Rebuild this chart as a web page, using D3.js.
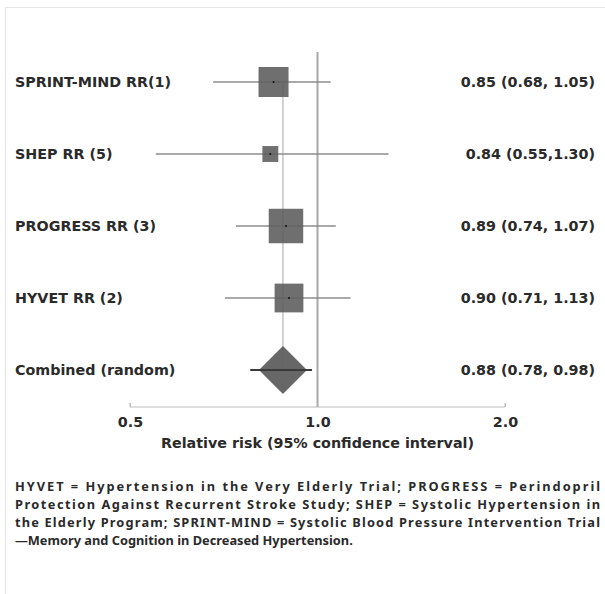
<!DOCTYPE html>
<html lang="en">
<head>
    <meta charset="UTF-8">
    <title>Forest plot - relative risk</title>
    <style>
        body { margin: 0; background: #fff; }
        svg { font-family: "DejaVu Sans", sans-serif; }
        .lbl { font-size: 14.3px; font-weight: bold; fill: #2a2a2a; }
        .note { font-family: "Noto Sans", sans-serif; font-size: 12.8px; font-weight: bold; fill: #2a2a2a; }
    </style>
</head>
<body>
    <svg id="chart" width="605" height="594"></svg>
    <script src="https://d3js.org/d3.v7.min.js"></script>
    <script>
        // data
        const studies = ["SPRINT-MIND RR(1)", "SHEP RR (5)", "PROGRESS RR (3)", "HYVET RR (2)", "Combined (random)"];
        const rr = [0.85, 0.84, 0.89, 0.90, 0.88];
        const lower = [0.68, 0.55, 0.74, 0.71, 0.78];
        const upper = [1.05, 1.30, 1.07, 1.13, 0.98];
        const weights = [25, 7, 33, 23]; // percent, approx from square size
        const rrText = ["0.85 (0.68, 1.05)", "0.84 (0.55,1.30)", "0.89 (0.74, 1.07)", "0.90 (0.71, 1.13)", "0.88 (0.78, 0.98)"];
        const tickValues = [0.5, 1.0, 2.0];
        const xTitle = "Relative risk (95% confidence interval)";
        const footnote = [
            "HYVET = Hypertension in the Very Elderly Trial; PROGRESS = Perindopril",
            "Protection Against Recurrent Stroke Study; SHEP = Systolic Hypertension in",
            "the Elderly Program; SPRINT-MIND = Systolic Blood Pressure Intervention Trial",
            "\u2014Memory and Cognition in Decreased Hypertension."
        ];

        const svg = d3.select("#chart");

        // light frame around the figure
        svg.append("path")
            .attr("d", "M5.5,594 V7.5 H605")
            .attr("fill", "none")
            .attr("stroke", "#e6e6e6");

        const x = d3.scaleLog().base(2).domain([0.5, 2]).range([130, 505]);
        const y = d3.scalePoint().domain(studies).range([82, 370]);
        const side = d3.scaleSqrt().domain([0, 100]).range([0, 60]);
        const axisY = 407;

        // line of no effect
        svg.append("line")
            .attr("x1", x(1)).attr("x2", x(1))
            .attr("y1", 52).attr("y2", axisY)
            .attr("stroke", "#a8a8a8").attr("stroke-width", 2);

        // pooled estimate reference line
        const pooled = rr[rr.length - 1];
        svg.append("line")
            .attr("x1", x(pooled)).attr("x2", x(pooled))
            .attr("y1", y(studies[0])).attr("y2", y(studies[4]))
            .attr("stroke", "#c4c4c4").attr("stroke-width", 1.5);

        const rows = studies.map((s, i) => ({ s, rr: rr[i], lo: lower[i], hi: upper[i], w: weights[i], txt: rrText[i] }));
        const trials = rows.slice(0, 4);
        const comb = rows[4];

        // CI lines
        svg.selectAll(".ci").data(trials).join("line")
            .attr("class", "ci")
            .attr("x1", d => x(d.lo)).attr("x2", d => x(d.hi))
            .attr("y1", d => y(d.s)).attr("y2", d => y(d.s))
            .attr("stroke", "#8c8c8c").attr("stroke-width", 1.5);

        // weighted squares
        svg.selectAll(".sq").data(trials).join("rect")
            .attr("class", "sq")
            .attr("x", d => x(d.rr) - side(d.w) / 2)
            .attr("y", d => y(d.s) - side(d.w) / 2)
            .attr("width", d => side(d.w))
            .attr("height", d => side(d.w))
            .attr("fill", "#5f5f5f").attr("fill-opacity", 0.9);

        svg.selectAll(".dot").data(trials).join("circle")
            .attr("class", "dot")
            .attr("cx", d => x(d.rr)).attr("cy", d => y(d.s))
            .attr("r", 1).attr("fill", "#111");

        // combined diamond
        const cx = x(comb.rr), cy = y(comb.s), dh = 24;
        svg.append("path")
            .attr("d", `M${cx - dh},${cy} L${cx},${cy - dh} L${cx + dh},${cy} L${cx},${cy + dh} Z`)
            .attr("fill", "#5f5f5f").attr("fill-opacity", 0.95);
        svg.append("line")
            .attr("x1", x(comb.lo)).attr("x2", x(comb.hi))
            .attr("y1", cy).attr("y2", cy)
            .attr("stroke", "#3a3a3a").attr("stroke-width", 2);

        // study labels and estimates
        svg.selectAll(".name").data(rows).join("text")
            .attr("class", "lbl name")
            .attr("x", 15).attr("y", d => y(d.s) + 5)
            .text(d => d.s);

        svg.selectAll(".est").data(rows).join("text")
            .attr("class", "lbl est")
            .attr("x", 595).attr("y", d => y(d.s) + 5)
            .attr("text-anchor", "end")
            .text(d => d.txt);

        // x axis
        const axis = svg.append("g")
            .attr("transform", `translate(0,${axisY})`)
            .call(d3.axisBottom(x).tickValues(tickValues).tickSize(-4).tickPadding(10).tickFormat(d3.format(".1f")));
        axis.attr("font-size", null).attr("font-family", null);
        axis.select(".domain").attr("stroke", "#bdbdbd").attr("d", `M${x(0.5)},-4 V0 H${x(2)} V-4`);
        axis.selectAll(".tick line").attr("stroke", "#bdbdbd");
        axis.selectAll(".tick text").attr("class", "lbl").attr("fill", null);

        svg.append("text")
            .attr("class", "lbl")
            .attr("x", x(1)).attr("y", 448)
            .attr("text-anchor", "middle")
            .text(xTitle);

        // footnote
        svg.selectAll(".note").data(footnote).join("text")
            .attr("class", "note")
            .attr("x", 15).attr("y", (d, i) => 491 + i * 18)
            .attr("textLength", (d, i) => i < 3 ? 585 : null)
            .attr("lengthAdjust", "spacing")
            .text(d => d);
    </script>
</body>
</html>
